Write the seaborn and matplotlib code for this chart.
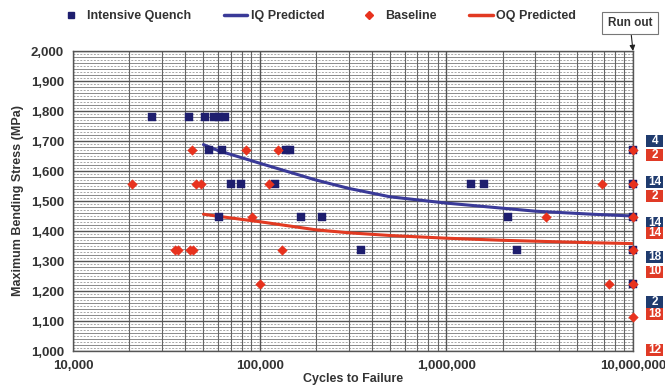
import numpy as np
import pandas as pd
import matplotlib
matplotlib.use("Agg")
import matplotlib.pyplot as plt
import matplotlib.ticker as mticker
from matplotlib.lines import Line2D
from matplotlib.patches import Rectangle
from matplotlib.transforms import blended_transform_factory
import seaborn as sns

# ---------------- data ----------------
iq_cycles = [26500, 42000, 50800, 56600, 60200, 65600,
             53700, 62600, 138000, 145000, 10000000,
             70200, 79400, 120800, 1355000, 1600000, 10000000,
             60800, 165800, 214800, 2130000, 10000000,
             347500, 2380000, 10000000,
             10000000]
iq_stress = [1780, 1780, 1780, 1780, 1780, 1780,
             1669, 1669, 1669, 1669, 1669,
             1558, 1558, 1558, 1558, 1558, 1558,
             1447, 1447, 1447, 1447, 1447,
             1336, 1336, 1336,
             1224]

base_cycles = [43200, 84500, 125800, 10000000,
               20600, 45600, 48300, 112600, 6790000, 10000000,
               90600, 3420000, 10000000,
               35200, 36700, 42300, 44000, 131000, 10000000,
               101000, 7430000, 10000000,
               10000000]
base_stress = [1669, 1669, 1669, 1669,
               1558, 1558, 1558, 1558, 1558, 1558,
               1447, 1447, 1447,
               1336, 1336, 1336, 1336, 1336, 1336,
               1224, 1224, 1224,
               1113]

iq_pred_cycles = [50000, 60000, 100000, 200000, 300000, 500000, 1000000, 2000000, 3000000, 6000000, 10000000]
iq_pred_stress = [1688, 1668, 1626, 1570, 1542, 1514, 1493, 1476, 1466, 1456, 1450]
oq_pred_cycles = [50000, 60000, 100000, 200000, 300000, 500000, 1000000, 2000000, 3000000, 6000000, 10000000]
oq_pred_stress = [1456, 1449, 1431, 1404, 1394, 1385, 1376, 1369, 1366, 1361, 1358]

runout_iq_counts = ["4", "14", "14", "18", "2"]
runout_base_counts = ["2", "2", "14", "10", "18", "12"]

x_ticks = [10000, 100000, 1000000, 10000000]
y_ticks = list(range(1000, 2001, 100))

legend_labels = ["Intensive Quench", "IQ Predicted", "Baseline", "OQ Predicted"]

# ---------------- style ----------------
NAVY = "#1e1e6e"
IQ_LINE = "#3a3a98"
RED = "#e8321e"
OQ_LINE = "#e23a22"
TXT = "#333333"

sns.set_theme(style="white")
plt.rcParams["font.family"] = ["Liberation Sans", "DejaVu Sans"]
plt.rcParams["font.weight"] = "bold"

W, H = 665, 386
fig = plt.figure(figsize=(W / 100, H / 100), dpi=100)
ax = fig.add_axes([73 / W, 1 - 351 / H, (633 - 73) / W, 300 / H])

iq_df = pd.DataFrame({"cycles": iq_cycles, "stress": iq_stress})
base_df = pd.DataFrame({"cycles": base_cycles, "stress": base_stress})
iqp_df = pd.DataFrame({"cycles": iq_pred_cycles, "stress": iq_pred_stress})
oqp_df = pd.DataFrame({"cycles": oq_pred_cycles, "stress": oq_pred_stress})

ax.set_xscale("log")
ax.set_xlim(10000, 10000000)
ax.set_ylim(1000, 2000)

# grid
ax.xaxis.set_major_locator(mticker.FixedLocator(x_ticks))
ax.xaxis.set_minor_locator(mticker.LogLocator(base=10, subs=np.arange(2, 10)))
ax.xaxis.set_minor_formatter(mticker.NullFormatter())
ax.xaxis.set_major_formatter(mticker.FuncFormatter(lambda v, p: f"{int(v):,}"))
ax.yaxis.set_major_locator(mticker.FixedLocator(y_ticks))
ax.yaxis.set_major_formatter(mticker.FuncFormatter(lambda v, p: f"{int(v):,}"))
ax.yaxis.set_minor_locator(mticker.MultipleLocator(10))

ax.grid(which="major", axis="both", color="#555555", lw=1.0, zorder=0)
ax.grid(which="minor", axis="x", color="#666666", lw=0.8, zorder=0)
for v in np.arange(1010, 2000, 10):
    if v % 100 == 0:
        continue
    if v % 20 == 0:
        ax.axhline(v, color="#8a8a8a", lw=0.7, zorder=0)
    else:
        ax.axhline(v, color="#a8a8a8", lw=0.7, ls=(0, (2, 1.5)), zorder=0)
ax.set_axisbelow(True)

sns.lineplot(data=iqp_df, x="cycles", y="stress", ax=ax, color=IQ_LINE, lw=2.2, zorder=3)
sns.lineplot(data=oqp_df, x="cycles", y="stress", ax=ax, color=OQ_LINE, lw=2.2, zorder=3)
sns.scatterplot(data=iq_df, x="cycles", y="stress", ax=ax, marker="s", s=40, color=NAVY,
                edgecolor=NAVY, linewidth=0.3, zorder=4, clip_on=False)
sns.scatterplot(data=base_df, x="cycles", y="stress", ax=ax, marker="D", s=24, color=RED,
                edgecolor=RED, linewidth=0.3, zorder=5, clip_on=False)

for sp in ax.spines.values():
    sp.set_color("#555555")
    sp.set_linewidth(1.0)

ax.tick_params(axis="both", which="major", labelsize=9.5, colors=TXT, length=3, width=0.8)
ax.tick_params(axis="both", which="minor", length=0)
for lab in ax.get_xticklabels() + ax.get_yticklabels():
    lab.set_fontweight("bold")
ax.set_xlabel("Cycles to Failure", fontsize=9, fontweight="bold", color=TXT, labelpad=1)
ax.set_ylabel("Maximum Bending Stress (MPa)", fontsize=9, fontweight="bold", color=TXT, labelpad=5)

# legend
handles = [
    Line2D([], [], marker="s", ls="none", color=NAVY, markersize=5),
    Line2D([], [], color=IQ_LINE, lw=2.5),
    Line2D([], [], marker="D", ls="none", color=RED, markersize=4.5),
    Line2D([], [], color=OQ_LINE, lw=2.5),
]
fig.legend(handles, legend_labels, loc="center", bbox_to_anchor=(0.478, 0.958), ncol=4,
           frameon=False, handlelength=1.9, handletextpad=0.3, columnspacing=2.6,
           prop={"size": 9, "weight": "bold"}, labelcolor=TXT)

# run out annotation
ax.annotate("Run out", xy=(10000000, 2000), xycoords="data",
            xytext=(630 / W, 1 - 23 / H), textcoords="figure fraction",
            ha="center", va="center", fontsize=8.5, fontweight="bold", color=TXT,
            bbox=dict(boxstyle="square,pad=0.45", fc="white", ec="#777777", lw=0.8),
            arrowprops=dict(arrowstyle="-|>", color="#222222", lw=0.8,
                            mutation_scale=8, shrinkA=0, shrinkB=0))

# run-out count boxes on right
tr = blended_transform_factory(ax.transAxes, ax.transData)
bx = (655 - 73) / 560
bw = 17 / 560
iq_box_y = [1700, 1562, 1428, 1312, 1162]
base_box_y = [1655, 1517, 1393, 1265, 1122, 1003]
bh = 40
for cnt, yy in zip(runout_iq_counts, iq_box_y):
    ax.add_patch(Rectangle((bx - bw / 2, yy - bh / 2), bw, bh, transform=tr,
                           fc="#1f3b6e", ec="none", clip_on=False, zorder=6))
    ax.text(bx, yy, cnt, transform=tr, ha="center", va="center", fontsize=8.5,
            fontweight="bold", color="white", clip_on=False, zorder=7)
for cnt, yy in zip(runout_base_counts, base_box_y):
    ax.add_patch(Rectangle((bx - bw / 2, yy - bh / 2), bw, bh, transform=tr,
                           fc="#e03a26", ec="none", clip_on=False, zorder=6))
    ax.text(bx, yy, cnt, transform=tr, ha="center", va="center", fontsize=8.5,
            fontweight="bold", color="white", clip_on=False, zorder=7)

fig.savefig("out.png", dpi=100, facecolor="white")
